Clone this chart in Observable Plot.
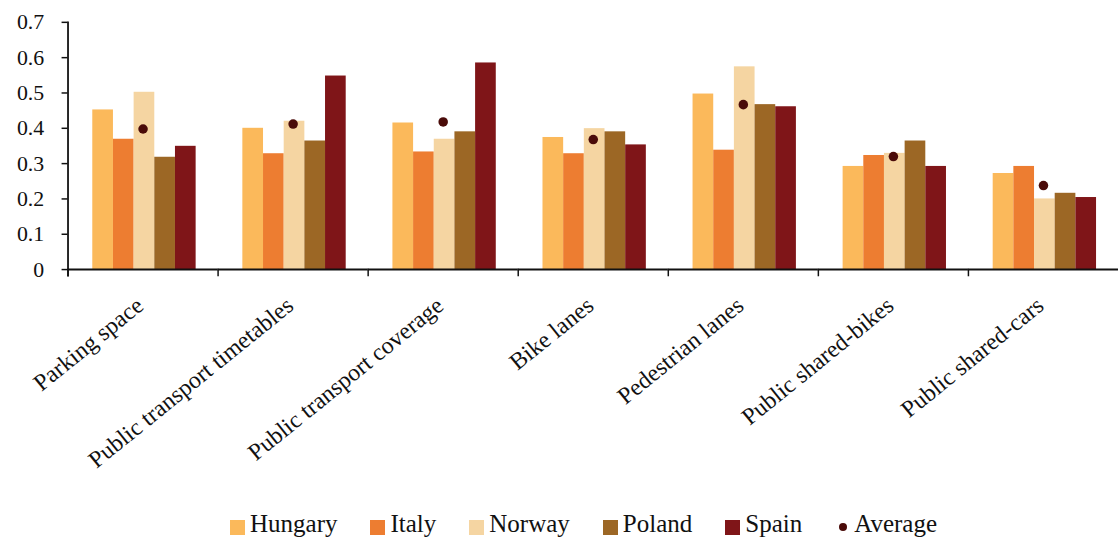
<!DOCTYPE html>
<html>
<head>
<meta charset="utf-8">
<script src="https://cdn.jsdelivr.net/npm/d3@7"></script>
<script src="https://cdn.jsdelivr.net/npm/@observablehq/plot@0.6"></script>
<style>
  html, body { margin: 0; padding: 0; background: #fff; overflow: hidden; }
  #chart svg { display: block; }
  .legend {
    display: flex; align-items: flex-start; height: 37px;
    padding-left: 230px; padding-top: 10px; box-sizing: border-box;
    font-family: "Liberation Serif", serif; font-size: 25px; line-height: 25px; color: #111;
  }
  .legend .item { display: flex; align-items: flex-start; margin-right: 33px; }
  .legend .sw { width: 15px; height: 15px; margin-right: 5px; margin-top: 9px; }
  .legend .dot { width: 8px; height: 8px; border-radius: 50%; margin: 12px 7px 0 4px; }
</style>
</head>
<body>
<div id="chart"></div>
<script>
// Infrastructure aspects, rated per country
const categories = [
  "Parking space",
  "Public transport timetables",
  "Public transport coverage",
  "Bike lanes",
  "Pedestrian lanes",
  "Public shared-bikes",
  "Public shared-cars"
];
const countries = ["Hungary", "Italy", "Norway", "Poland", "Spain"];
const colors = ["#FBB95B", "#ED7D31", "#F5D5A2", "#9C6725", "#7F1518"];
const averageColor = "#4A0B09";

const hungary = [0.452, 0.400, 0.415, 0.374, 0.497, 0.292, 0.272];
const italy   = [0.369, 0.328, 0.333, 0.328, 0.338, 0.323, 0.292];
const norway  = [0.502, 0.420, 0.369, 0.399, 0.574, 0.329, 0.200];
const poland  = [0.318, 0.364, 0.390, 0.390, 0.467, 0.364, 0.216];
const spain   = [0.349, 0.548, 0.585, 0.353, 0.461, 0.292, 0.204];
const average = [0.398, 0.412, 0.418, 0.368, 0.467, 0.320, 0.238];

const yTicks = [0, 0.1, 0.2, 0.3, 0.4, 0.5, 0.6, 0.7];

const series = [hungary, italy, norway, poland, spain];
const bars = [];
categories.forEach((category, i) => {
  countries.forEach((country, j) => {
    bars.push({category, country, value: series[j][i]});
  });
});
const averages = categories.map((category, i) => ({category, value: average[i]}));

const chart = Plot.plot({
  width: 1126,
  height: 505,
  marginLeft: 68,
  marginRight: 0,
  marginTop: 22,
  marginBottom: 234,
  style: {fontFamily: "Liberation Serif, serif", fontSize: "22px", color: "#111", background: "#fff"},
  fx: {domain: categories, padding: 0, round: false, label: null},
  x: {domain: countries, paddingInner: 0, paddingOuter: 1.13, align: 0.53, round: false, axis: null},
  y: {domain: [0, 0.7], axis: null},
  color: {domain: countries, range: colors},
  marks: [
    Plot.barY(bars, {fx: "category", x: "country", y: "value", fill: "country", inset: 0}),
    Plot.dot(averages, {fx: "category", y: "value", r: 4.8, fill: averageColor, stroke: null}),
    Plot.ruleY([0], {stroke: "#111", strokeWidth: 2}),
    // category separators below the baseline
    Plot.frame({anchor: "left", insetTop: 249, insetBottom: -6, stroke: "#111", strokeWidth: 1.5}),
    // vertical value axis line, leftmost panel only
    Plot.frame({anchor: "left", facetAnchor: "left", insetBottom: -6, stroke: "#111", strokeWidth: 1.8}),
    Plot.axisY({
      ticks: yTicks, tickSize: 6, tickPadding: 18, strokeWidth: 1.5,
      tickFormat: d => d === 0 ? "0" : d.toFixed(1), label: null
    }),
    Plot.axisFx({
      anchor: "bottom", tickRotate: -39, tickSize: 0, tickPadding: 33, dx: -3,
      fontSize: 24, label: null
    })
  ]
});
document.getElementById("chart").appendChild(chart);

// legend row below the plot
const legend = document.createElement("div");
legend.className = "legend";
countries.forEach((c, i) => {
  const item = document.createElement("div");
  item.className = "item";
  item.innerHTML = `<span class="sw" style="background:${colors[i]}"></span><span>${c}</span>`;
  legend.appendChild(item);
});
const avgItem = document.createElement("div");
avgItem.className = "item";
avgItem.innerHTML = `<span class="dot" style="background:${averageColor}"></span><span>Average</span>`;
legend.appendChild(avgItem);
document.body.appendChild(legend);
</script>
</body>
</html>
